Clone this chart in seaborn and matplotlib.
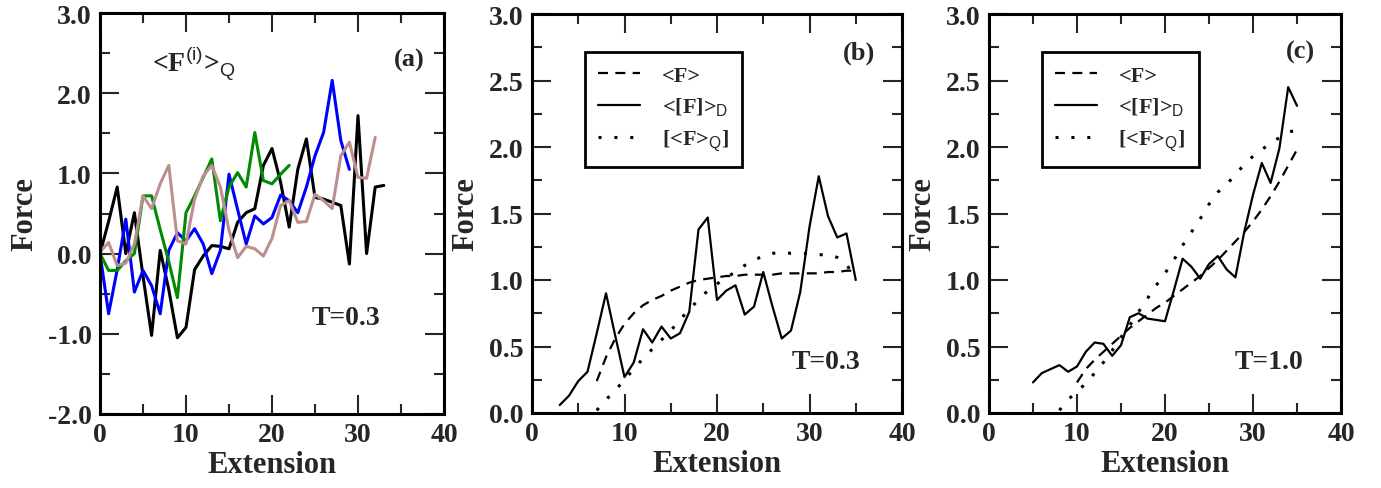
import matplotlib
matplotlib.use("Agg")
import matplotlib.pyplot as plt
import seaborn as sns
import pandas as pd
from matplotlib.ticker import MultipleLocator, FormatStrFormatter

# ---------------- data ----------------
# panel (a): <F^(i)>_Q for four samples, T=0.3
a_black_x = list(range(0, 34))
a_black = [0.0, 0.4, 0.83, 0.0, 0.51, -0.28, -1.02, 0.04, -0.45, -1.05, -0.92, -0.2,
           -0.03, 0.1, 0.09, 0.06, 0.39, 0.51, 0.56, 1.1, 1.31, 0.89, 0.33, 1.05, 1.43,
           0.7, 0.68, 0.64, 0.6, -0.13, 1.72, 0.0, 0.83, 0.85]
a_blue_x = list(range(0, 30))
a_blue = [0.0, -0.75, -0.2, 0.43, -0.48, -0.21, -0.4, -0.75, 0.04, 0.26, 0.16, 0.31,
          0.12, -0.25, 0.04, 0.99, 0.55, 0.12, 0.47, 0.37, 0.45, 0.73, 0.66, 0.51, 0.83,
          1.22, 1.51, 2.16, 1.41, 1.05]
a_green_x = list(range(0, 23))
a_green = [0.0, -0.21, -0.21, -0.09, 0.0, 0.72, 0.72, 0.3, -0.1, -0.55, 0.51, 0.72,
           0.95, 1.18, 0.41, 0.83, 1.01, 0.83, 1.51, 0.91, 0.87, 0.99, 1.10]
a_brown_x = list(range(0, 33))
a_brown = [0.02, 0.14, -0.15, -0.12, 0.12, 0.72, 0.56, 0.87, 1.1, 0.16, 0.12, 0.68,
           0.97, 1.1, 0.83, 0.29, -0.05, 0.09, 0.06, -0.03, 0.19, 0.60, 0.66, 0.39, 0.40,
           0.74, 0.66, 0.56, 1.22, 1.39, 0.95, 0.94, 1.45]

# panel (b): T=0.3
b_solid_x = list(range(3, 36))
b_solid = [0.06, 0.13, 0.24, 0.31, 0.6, 0.9, 0.58, 0.27, 0.38, 0.63, 0.53, 0.65, 0.56,
           0.6, 0.76, 1.38, 1.47, 0.85, 0.92, 0.96, 0.74, 0.8, 1.06, 0.8, 0.56, 0.62,
           0.91, 1.4, 1.78, 1.48, 1.32, 1.35, 1.0]
b_dash_x = list(range(7, 36))
b_dash = [0.24, 0.42, 0.56, 0.67, 0.75, 0.81, 0.85, 0.88, 0.92, 0.95, 0.98, 1.0, 1.01,
          1.02, 1.03, 1.03, 1.04, 1.04, 1.04, 1.04, 1.05, 1.05, 1.05, 1.05, 1.05, 1.06,
          1.06, 1.07, 1.07]
b_dot_x = list(range(7, 36))
b_dot = [0.02, 0.1, 0.17, 0.25, 0.33, 0.41, 0.48, 0.55, 0.62, 0.7, 0.78, 0.85, 0.92,
         0.97, 1.02, 1.06, 1.11, 1.15, 1.18, 1.2, 1.21, 1.2, 1.2, 1.2, 1.19, 1.19, 1.17,
         1.12, 1.0]

# panel (c): T=1.0
c_solid_x = list(range(5, 36))
c_solid = [0.23, 0.30, 0.33, 0.36, 0.31, 0.35, 0.46, 0.53, 0.52, 0.43, 0.51, 0.72, 0.75,
           0.71, 0.70, 0.69, 0.92, 1.16, 1.10, 1.01, 1.12, 1.18, 1.08, 1.02, 1.36, 1.64,
           1.88, 1.73, 1.99, 2.45, 2.31]
c_dash_x = list(range(10, 36))
c_dash = [0.23, 0.33, 0.40, 0.46, 0.52, 0.58, 0.64, 0.69, 0.74, 0.79, 0.83, 0.88, 0.93,
          0.98, 1.03, 1.09, 1.15, 1.22, 1.29, 1.36, 1.44, 1.53, 1.63, 1.74, 1.86, 1.98]
c_dot_x = list(range(8, 36))
c_dot = [0.02, 0.10, 0.165, 0.22, 0.30, 0.38, 0.47, 0.57, 0.66, 0.76, 0.86, 0.96, 1.05,
         1.15, 1.26, 1.36, 1.46, 1.57, 1.66, 1.72, 1.79, 1.87, 1.93, 1.98, 2.03, 2.07,
         2.11, 2.13]

legend_labels = ["<F>", "<[F]>$_\\mathsf{D}$", "[<F>$_\\mathsf{Q}$]"]

# ---------------- style ----------------
sns.set_style("ticks")
plt.rcParams.update({
    "font.family": ["Liberation Serif", "DejaVu Serif"],
    "font.weight": "bold",
    "axes.labelweight": "bold",
    "mathtext.fontset": "custom",
    "mathtext.rm": "Liberation Serif:bold",
    "mathtext.bf": "Liberation Serif:bold",
    "mathtext.sf": "Liberation Sans:normal",
    "axes.unicode_minus": False,
})

W, H = 1381, 489
fig = plt.figure(figsize=(W / 100, H / 100), dpi=100)


def add_ax(left, right, top, bottom):
    return fig.add_axes([left / W, 1 - bottom / H, (right - left) / W, (bottom - top) / H])


def style(ax, ylo, yhi, ymaj, ymin):
    ax.set_xlim(0, 40)
    ax.set_ylim(ylo, yhi)
    ax.xaxis.set_major_locator(MultipleLocator(10))
    ax.xaxis.set_minor_locator(MultipleLocator(5))
    ax.yaxis.set_major_locator(MultipleLocator(ymaj))
    ax.yaxis.set_minor_locator(MultipleLocator(ymin))
    ax.xaxis.set_major_formatter(FormatStrFormatter("%d"))
    ax.yaxis.set_major_formatter(FormatStrFormatter("%.1f"))
    ax.tick_params(which="both", direction="in", top=True, right=True, width=1.5,
                   labelsize=20, pad=6)
    ax.tick_params(which="major", length=14)
    ax.tick_params(which="minor", length=7)
    for s in ax.spines.values():
        s.set_linewidth(2.2)
        s.set_color("black")
    for lab in ax.get_xticklabels() + ax.get_yticklabels():
        lab.set_fontweight("bold")
    ax.set_xlabel("Extension", fontsize=22, fontweight="bold", labelpad=2)
    ax.set_ylabel("Force", fontsize=22, fontweight="bold", labelpad=6)


# ---------------- panel (a) ----------------
ax1 = add_ax(100, 444, 14, 415)
for xs, ys, col in [(a_black_x, a_black, "black"), (a_blue_x, a_blue, "#0000ff"),
                    (a_green_x, a_green, "#008b00"), (a_brown_x, a_brown, "#bc8f8f")]:
    sns.lineplot(x=xs, y=ys, ax=ax1, color=col, lw=2.2, sort=False, estimator=None)
style(ax1, -2.0, 3.0, 1.0, 0.5)
ax1.text(0.15, 0.855, "<F$^{\\mathsf{(i)}}$>$_{\\mathsf{Q}}$", transform=ax1.transAxes,
         fontsize=20, fontweight="bold")
ax1.text(0.90, 0.885, "(a)", transform=ax1.transAxes, fontsize=19, fontweight="bold",
         ha="center", va="center")
ax1.text(0.715, 0.24, "T=0.3", transform=ax1.transAxes, fontsize=20, fontweight="bold",
         ha="center", va="center")


def panel(left, right, sx, sy, dx, dy, px, py, letter, temp, legx):
    ax = add_ax(left, right, 15, 414)
    sns.lineplot(x=dx, y=dy, ax=ax, color="black", lw=1.6, linestyle=(0, (4.5, 3.3)),
                 sort=False, estimator=None, label=legend_labels[0])
    sns.lineplot(x=sx, y=sy, ax=ax, color="black", lw=1.6, linestyle="-",
                 sort=False, estimator=None, label=legend_labels[1])
    sns.lineplot(x=px, y=py, ax=ax, color="black", lw=2.2, linestyle=(0, (1, 4.2)),
                 sort=False, estimator=None, label=legend_labels[2])
    style(ax, 0.0, 3.0, 0.5, 0.25)
    leg = ax.legend(loc="upper left", bbox_to_anchor=(legx, 0.905), borderaxespad=0,
                    fontsize=16, frameon=True, fancybox=False, framealpha=1,
                    edgecolor="black", handlelength=1.9, handletextpad=0.95,
                    borderpad=0.6, labelspacing=0.45)
    leg.get_frame().set_linewidth(2.0)
    ax.text(0.885, 0.905, letter, transform=ax.transAxes, fontsize=19, fontweight="bold",
            ha="center", va="center")
    ax.text(0.795, 0.13, temp, transform=ax.transAxes, fontsize=20, fontweight="bold",
            ha="center", va="center")
    return ax


ax2 = panel(532, 902, b_solid_x, b_solid, b_dash_x, b_dash, b_dot_x, b_dot, "(b)", "T=0.3", 0.143)
ax3 = panel(989, 1341, c_solid_x, c_solid, c_dash_x, c_dash, c_dot_x, c_dot, "(c)", "T=1.0", 0.15)

fig.savefig("out.png", dpi=100)
